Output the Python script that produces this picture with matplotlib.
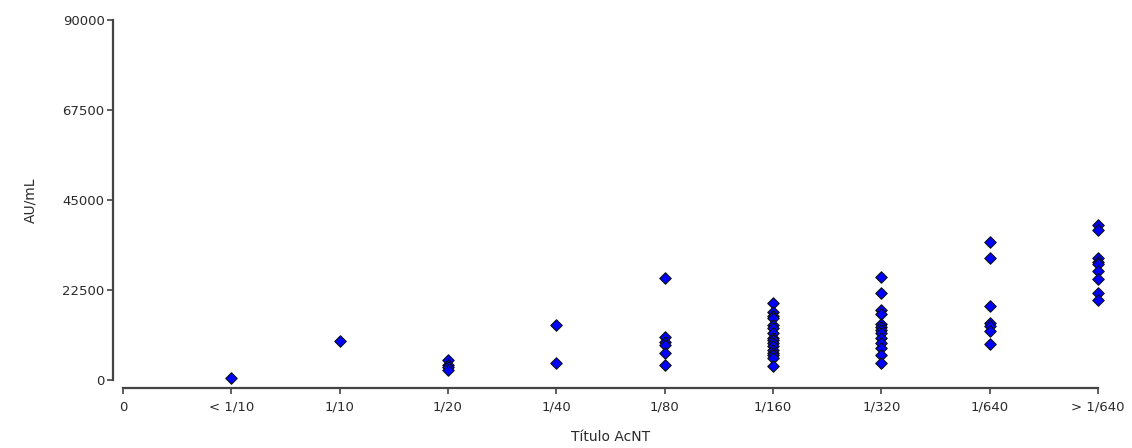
import matplotlib
matplotlib.use("Agg")
import matplotlib.pyplot as plt

categories = ["0", "< 1/10", "1/10", "1/20", "1/40", "1/80", "1/160", "1/320", "1/640", "> 1/640"]
ytick_vals = [0, 22500, 45000, 67500, 90000]

vals_lt10 = [500]
vals_10 = [9800]
vals_20 = [5000, 3800, 3200, 2400]
vals_40 = [13800, 4200]
vals_80 = [25400, 10700, 9600, 8700, 6800, 3800]
vals_160 = [19300, 17100, 16000, 15400, 13800, 12900, 11700, 10600, 10000, 9200, 8500, 7500, 6800, 6250, 5400, 3500]
vals_320 = [25700, 21800, 17500, 16500, 14000, 13200, 12400, 11700, 10400, 9200, 8100, 6250, 4200]
vals_640 = [34600, 30400, 18500, 14300, 13500, 12200, 9000]
vals_gt640 = [38800, 37500, 30400, 29600, 29000, 27300, 25200, 21700, 20000]

groups = [vals_lt10, vals_10, vals_20, vals_40, vals_80, vals_160, vals_320, vals_640, vals_gt640]

plt.rcParams['font.family'] = ['DejaVu Sans']
fig = plt.figure(figsize=(11.32, 4.48), dpi=100)
W, H = 1132, 448
ax = fig.add_axes([123 / W, (H - 380) / H, (1098 - 123) / W, 360 / H])

for i, g in enumerate(groups, start=1):
    ax.scatter([i] * len(g), g, marker='D', s=34, facecolor='#0000ff',
               edgecolor='#111111', linewidth=0.8, zorder=3, clip_on=False)

ax.set_xlim(0, 9)
ax.set_ylim(0, 90000)
ax.set_xticks(range(len(categories)))
ax.set_xticklabels(categories)
ax.set_yticks(ytick_vals)
ax.set_yticklabels([str(v) for v in ytick_vals])

for s in ['top', 'right']:
    ax.spines[s].set_visible(False)
ax.spines['left'].set_position(('outward', 7.2))
ax.spines['bottom'].set_position(('outward', 5.8))
for s in ['left', 'bottom']:
    ax.spines[s].set_color('#444444')
    ax.spines[s].set_linewidth(1.6)

ax.tick_params(axis='both', colors='#444444', width=1.2, length=4,
               labelsize=9.5, labelcolor='#2a2a2a')
ax.tick_params(axis='x', pad=5)
ax.tick_params(axis='y', pad=2)

ax.set_ylabel("AU/mL", fontsize=10, color='#2a2a2a', labelpad=18)
ax.set_xlabel("Título AcNT", fontsize=10, color='#2a2a2a', labelpad=12)

fig.savefig("out.png", dpi=100)
